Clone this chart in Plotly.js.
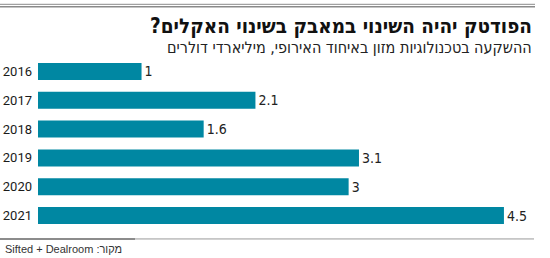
<!DOCTYPE html>
<html><head><meta charset="utf-8">
<script src="https://cdn.plot.ly/plotly-3.0.1.min.js"></script>
<style>html,body{margin:0;padding:0;background:#fff}#c{width:550px;height:258px}</style>
</head><body><div id="c"></div>
<script>
const years = ['2016','2017','2018','2019','2020','2021'];
const investment = [1, 2.1, 1.6, 3.1, 3, 4.5];
const valueLabels = ['1','2.1','1.6','3.1','3','4.5'];
const titleText = 'הפודטק יהיה השינוי במאבק בשינוי האקלים?\u200F';
const subtitleText = 'ההשקעה בטכנולוגיות מזון באיחוד האירופי, מיליארדי דולרים';
const sourceText = 'Sifted + Dealroom :מקור';

const W = 550, H = 258;
const L = 38, R = 535, T = 56.5, B = 230.5;
const px = v => (v - L) / (R - L);
const py = v => (B - v) / (B - T);

const trace = {
  type: 'bar', orientation: 'h',
  x: investment, y: years,
  marker: {color: '#0087a2'},
  text: valueLabels, textposition: 'outside', cliponaxis: false,
  textfont: {family: 'Liberation Sans Narrow, DejaVu Sans Condensed, sans-serif', size: 14, color: '#222'},
  hoverinfo: 'none'
};
const layout = {
  width: W, height: H,
  margin: {l: L, r: W - R, t: T, b: H - B, pad: 0},
  paper_bgcolor: '#fff', plot_bgcolor: '#fff',
  showlegend: false, bargap: 0.41,
  xaxis: {range: [0, 4.8], visible: false, fixedrange: true},
  yaxis: {type: 'category', range: [5.5, -0.5], showgrid: false, zeroline: false, showline: false,
    ticks: '', ticklabelstandoff: 5,
    tickfont: {family: 'Roboto, sans-serif', size: 13, color: '#1a1a1a'}},
  shapes: [
    {type: 'line', xref: 'paper', yref: 'paper', x0: px(0), x1: px(535), y0: py(3.5), y1: py(3.5), line: {color: '#8a8a8a', width: 1}},
    {type: 'line', xref: 'paper', yref: 'paper', x0: px(0), x1: px(535), y0: py(6), y1: py(6), line: {color: '#8a8a8a', width: 1.5}},
    {type: 'line', xref: 'paper', yref: 'paper', x0: px(0), x1: px(135), y0: py(239.5), y1: py(239.5), line: {color: '#666', width: 1.5}},
    {type: 'line', xref: 'paper', yref: 'paper', x0: px(135), x1: px(534), y0: py(239.5), y1: py(239.5), line: {color: '#999', width: 1}}
  ],
  annotations: [
    {text: '<b>' + titleText + '</b>', xref: 'paper', yref: 'paper', x: px(534), y: py(25), xanchor: 'right', yanchor: 'middle', showarrow: false,
      font: {family: 'Liberation Sans Narrow, DejaVu Sans Condensed, sans-serif', size: 20.5, color: '#111'}},
    {text: subtitleText, xref: 'paper', yref: 'paper', x: px(534), y: py(47), xanchor: 'right', yanchor: 'middle', showarrow: false,
      font: {family: 'Liberation Sans Narrow, DejaVu Sans Condensed, sans-serif', size: 16, color: '#222'}},
    {text: sourceText, xref: 'paper', yref: 'paper', x: px(3), y: py(250), xanchor: 'left', yanchor: 'middle', showarrow: false,
      font: {family: 'Liberation Sans, Arial, sans-serif', size: 11, color: '#333'}}
  ]
};
Plotly.newPlot('c', [trace], layout, {staticPlot: true, displayModeBar: false});
</script></body></html>
